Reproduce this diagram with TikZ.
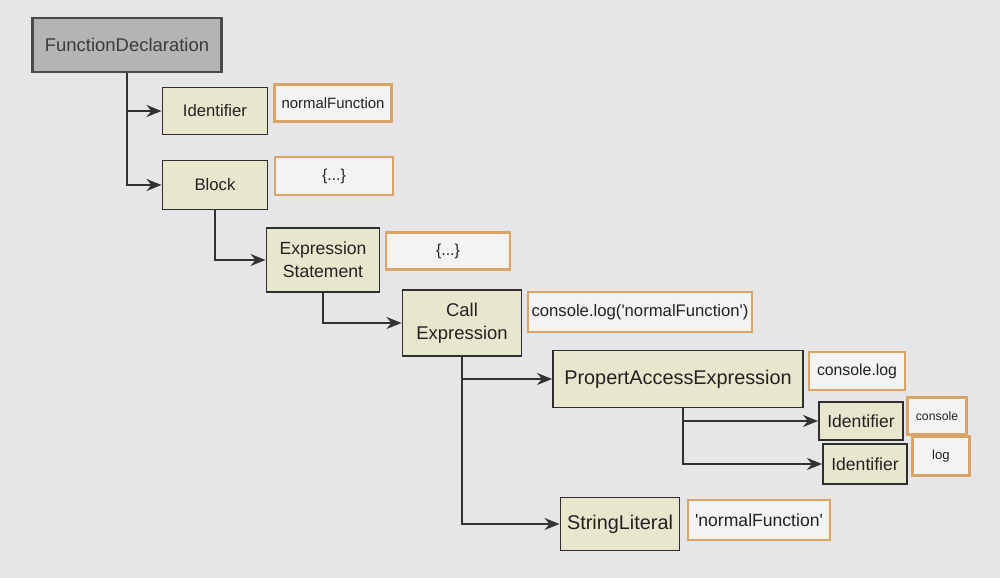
\documentclass[tikz,border=0pt]{standalone}
\usepackage{fontspec}
\setmainfont{Liberation Sans}
\usetikzlibrary{arrows.meta}
\definecolor{pagebg}{HTML}{E6E6E8}
\definecolor{nodefill}{HTML}{E8E6CC}
\definecolor{nodeedge}{HTML}{2E2E2E}
\definecolor{rootfill}{HTML}{B4B4B6}
\definecolor{rootedge}{HTML}{4A4A4C}
\definecolor{valedge}{HTML}{D9A468}
\definecolor{valfill}{HTML}{F3F3F2}
\definecolor{linkcol}{HTML}{333333}
\definecolor{inkcol}{HTML}{222222}

\begin{document}
\begin{tikzpicture}[
    ast/.style={draw=nodeedge, fill=nodefill, line width=1.1pt, text=inkcol, align=center, inner sep=2pt},
    root/.style={ast, fill=rootfill, draw=rootedge, line width=1.6pt, text=rootedge!80!black},
    val/.style={draw=valedge, fill=valfill, line width=1.2pt, text=inkcol, inner sep=2pt},
    link/.style={draw=linkcol, line width=1pt, -{Stealth[length=3mm,width=2.4mm]}}
  ]
  \fill[pagebg] (0,0) rectangle (20,-11.56);
  \useasboundingbox (0,0) rectangle (20,-11.56);

  % tree nodes
  \node[root, minimum width=3.78cm, minimum height=1.08cm, font=\fontsize{10.5}{13}\selectfont] (fd) at (2.54,-0.90) {FunctionDeclaration};
  \node[ast, minimum width=2.10cm, minimum height=0.94cm, font=\fontsize{9.5}{12}\selectfont] (id) at (4.30,-2.22) {Identifier};
  \node[ast, minimum width=2.10cm, minimum height=0.98cm, font=\fontsize{9.5}{12}\selectfont] (blk) at (4.30,-3.70) {Block};
  \node[ast, minimum width=2.26cm, minimum height=1.28cm, font=\fontsize{10}{13}\selectfont] (es) at (6.46,-5.20) {Expression\\Statement};
  \node[ast, minimum width=2.38cm, minimum height=1.32cm, font=\fontsize{10.5}{13}\selectfont] (ce) at (9.24,-6.46) {Call\\Expression};
  \node[ast, minimum width=5.00cm, minimum height=1.14cm, font=\fontsize{11.3}{13}\selectfont] (pa) at (13.56,-7.58) {PropertAccessExpression};
  \node[ast, minimum width=1.68cm, minimum height=0.76cm, inner sep=1pt, font=\fontsize{10}{12}\selectfont] (id1) at (17.22,-8.42) {Identifier};
  \node[ast, minimum width=1.68cm, minimum height=0.80cm, inner sep=1pt, font=\fontsize{10}{12}\selectfont] (id2) at (17.30,-9.28) {Identifier};
  \node[ast, minimum width=2.38cm, minimum height=1.06cm, font=\fontsize{11.3}{13}\selectfont] (sl) at (12.40,-10.48) {StringLiteral};

  % values
  \node[val, minimum width=2.34cm, minimum height=0.74cm, font=\fontsize{8.5}{10}\selectfont] (idv) at (6.66,-2.06) {normalFunction};
  \node[val, minimum width=2.36cm, minimum height=0.76cm, font=\fontsize{9}{10}\selectfont] (blkv) at (6.68,-3.52) {\{...\}};
  \node[val, minimum width=2.48cm, minimum height=0.74cm, font=\fontsize{9}{10}\selectfont] (esv) at (8.96,-5.02) {\{...\}};
  \node[val, minimum width=4.48cm, minimum height=0.80cm, font=\fontsize{9.5}{11}\selectfont] (cev) at (12.80,-6.24) {console.log(\textquotesingle normalFunction\textquotesingle)};
  \node[val, minimum width=1.92cm, minimum height=0.76cm, font=\fontsize{9}{11}\selectfont] (pav) at (17.14,-7.42) {console.log};
  \node[val, minimum width=1.18cm, minimum height=0.74cm, inner sep=1pt, font=\fontsize{7}{9}\selectfont] (id1v) at (18.74,-8.32) {console};
  \node[val, minimum width=1.14cm, minimum height=0.78cm, inner sep=1pt, font=\fontsize{7.5}{9}\selectfont] (id2v) at (18.82,-9.12) {log};
  \node[val, minimum width=2.84cm, minimum height=0.80cm, font=\fontsize{10}{12}\selectfont] (slv) at (15.18,-10.40) {\textquotesingle normalFunction\textquotesingle};

  % connectors
  \draw[link] (fd.south) |- (id.west);
  \draw[link] (fd.south) |- (blk.west);
  \draw[link] (blk.south) |- (es.west);
  \draw[link] (es.south) |- (ce.west);
  \draw[link] (ce.south) |- (pa.west);
  \draw[link] (ce.south) |- (sl.west);
  \draw[link] ([xshift=0.1cm]pa.south) |- (id1.west);
  \draw[link] ([xshift=0.1cm]pa.south) |- (id2.west);
\end{tikzpicture}
\end{document}
